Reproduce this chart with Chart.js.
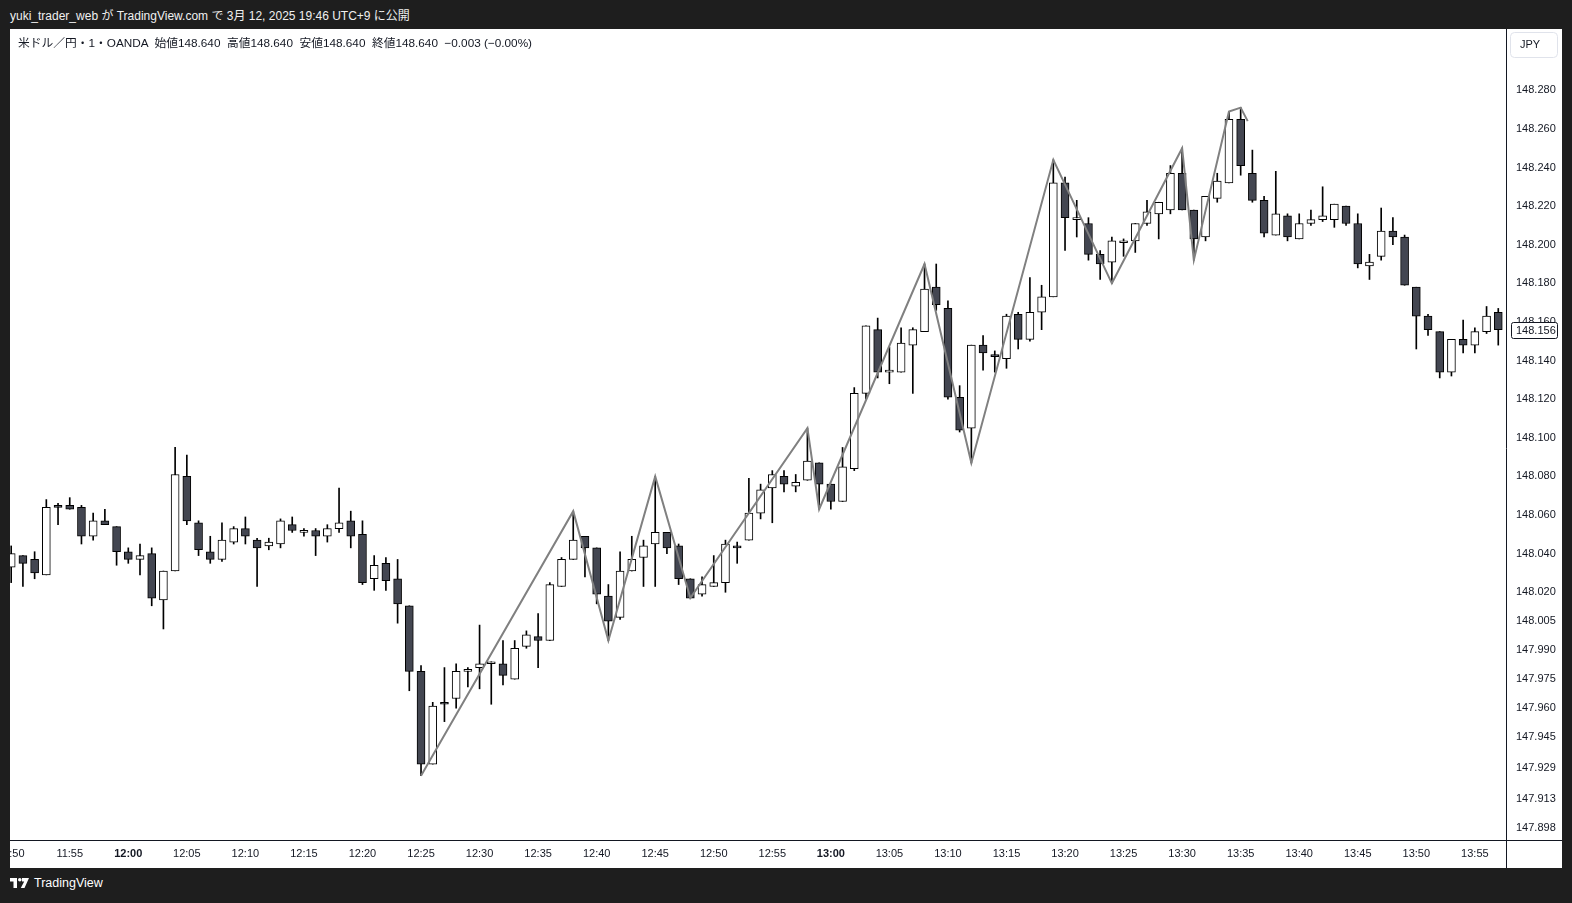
<!DOCTYPE html>
<html>
<head>
<meta charset="utf-8">
<script src="https://cdn.jsdelivr.net/npm/chart.js@4.4.1/dist/chart.umd.min.js"></script>
<style>
  body { margin: 0; width: 1572px; height: 903px; background: #1e1e1e; overflow: hidden;
         font-family: "Liberation Sans", Arial, "Noto Sans CJK JP", sans-serif; }
  #head { position: absolute; left: 10px; top: 6px; color: #f0f0f0; font-size: 12px; white-space: pre; }
  #panel { position: absolute; left: 10px; top: 29px; width: 1552px; height: 839px; background: #fff; }
  #legend { position: absolute; left: 8px; top: 4px; font-size: 11.75px; color: #131722; white-space: pre; z-index: 2; }
  #chart { position: absolute; left: 0; top: 0; }
  #foot { position: absolute; left: 10px; top: 876px; color: #fff; font-size: 12.5px; display: flex; align-items: center; }
  #foot svg { margin-right: 4px; }
</style>
</head>
<body>
<div id="head">yuki_trader_web が TradingView.com で 3月 12, 2025 19:46 UTC+9 に公開</div>
<div id="panel">
  <div id="legend">米ドル／円・1・OANDA  始値148.640  高値148.640  安値148.640  終値148.640  −0.003 (−0.00%)</div>
  <canvas id="chart" width="1552" height="839"></canvas>
</div>
<div id="foot">
  <svg width="20" height="12" viewBox="0 0 20 12">
    <rect x="0" y="1" width="7" height="3.5" fill="#fff"/>
    <rect x="3.5" y="1" width="3.5" height="10" fill="#fff"/>
    <circle cx="9.8" cy="2.8" r="1.8" fill="#fff"/>
    <polygon points="12,1 19,1 14.5,11 10.8,11 14.2,4.5 12,4.5" fill="#fff"/>
  </svg>
  <span>TradingView</span>
</div>
<script>
// USD/JPY 1-minute candles, 11:50 - 13:57
const opens = [148.033,148.039,148.037,148.029,148.065,148.065,148.064,148.049,148.057,148.054,
  148.041,148.037,148.040,148.016,148.031,148.080,148.056,148.041,148.037,148.046,
  148.053,148.047,148.044,148.045,148.055,148.051,148.052,148.049,148.053,148.057,
  148.050,148.027,148.035,148.027,148.013,147.979,147.931,147.963,147.965,147.979,
  147.981,147.983,147.983,147.975,147.992,147.997,147.995,148.023,148.037,148.049,
  148.043,148.018,148.007,148.031,148.038,148.045,148.051,148.044,148.027,148.019,
  148.023,148.025,148.044,148.047,148.061,148.074,148.080,148.075,148.078,148.087,
  148.076,148.067,148.084,148.123,148.156,148.134,148.134,148.148,148.155,148.178,
  148.167,148.121,148.105,148.148,148.143,148.141,148.164,148.151,148.165,148.173,
  148.232,148.213,148.211,148.195,148.191,148.201,148.202,148.211,148.216,148.218,
  148.237,148.218,148.204,148.224,148.232,148.265,148.237,148.223,148.205,148.215,
  148.203,148.211,148.213,148.213,148.220,148.211,148.189,148.194,148.207,148.204,
  148.178,148.163,148.155,148.134,148.151,148.148,148.155,148.165];
const highs = [148.044,148.039,148.041,148.068,148.066,148.069,148.065,148.061,148.063,148.054,
  148.043,148.045,148.043,148.031,148.095,148.091,148.057,148.049,148.056,148.054,
  148.059,148.048,148.048,148.058,148.059,148.053,148.053,148.055,148.074,148.062,
  148.057,148.039,148.038,148.037,148.013,147.982,147.963,147.981,147.983,147.981,
  148.003,147.984,147.995,147.995,148.000,148.009,148.025,148.038,148.062,148.049,
  148.043,148.024,148.041,148.049,148.047,148.080,148.051,148.045,148.027,148.028,
  148.039,148.047,148.046,148.079,148.076,148.083,148.083,148.081,148.105,148.087,
  148.076,148.095,148.126,148.158,148.162,148.147,148.157,148.157,148.190,148.190,
  148.171,148.127,148.148,148.153,148.145,148.164,148.165,148.183,148.179,148.244,
  148.235,148.223,148.214,148.197,148.204,148.203,148.211,148.223,148.222,148.241,
  148.250,148.218,148.225,148.237,148.269,148.271,148.249,148.225,148.238,148.216,
  148.216,148.218,148.230,148.221,148.220,148.216,148.195,148.219,148.214,148.205,
  148.178,148.164,148.155,148.151,148.161,148.157,148.168,148.167];
const lows = [148.025,148.023,148.027,148.029,148.055,148.063,148.045,148.047,148.055,148.034,
  148.035,148.029,148.013,148.001,148.031,148.055,148.039,148.035,148.036,148.045,
  148.045,148.023,148.042,148.043,148.051,148.049,148.039,148.046,148.051,148.043,
  148.024,148.021,148.021,148.004,147.969,147.925,147.931,147.953,147.960,147.971,
  147.970,147.962,147.972,147.975,147.991,147.981,147.995,148.023,148.037,148.028,
  148.014,147.995,148.006,148.031,148.023,148.023,148.040,148.024,148.017,148.018,
  148.023,148.020,148.035,148.047,148.058,148.056,148.072,148.072,148.078,148.063,
  148.063,148.067,148.083,148.120,148.131,148.128,148.134,148.123,148.155,148.166,
  148.120,148.103,148.087,148.135,148.134,148.136,148.146,148.150,148.156,148.173,
  148.197,148.204,148.192,148.182,148.180,148.194,148.196,148.210,148.203,148.216,
  148.218,148.192,148.202,148.222,148.232,148.236,148.222,148.204,148.205,148.202,
  148.203,148.210,148.212,148.209,148.210,148.188,148.182,148.192,148.200,148.179,
  148.146,148.153,148.131,148.132,148.144,148.144,148.154,148.148];
const closes = [148.040,148.035,148.030,148.064,148.064,148.063,148.049,148.057,148.055,148.041,
  148.037,148.039,148.017,148.031,148.081,148.057,148.042,148.037,148.047,148.053,
  148.049,148.043,148.046,148.057,148.052,148.051,148.049,148.053,148.056,148.049,
  148.025,148.034,148.026,148.014,147.979,147.931,147.961,147.962,147.979,147.979,
  147.983,147.983,147.977,147.991,147.998,147.995,148.024,148.037,148.047,148.043,
  148.019,148.005,148.031,148.037,148.044,148.051,148.043,148.027,148.017,148.024,
  148.025,148.045,148.043,148.061,148.073,148.081,148.076,148.077,148.088,148.076,
  148.067,148.085,148.123,148.158,148.134,148.134,148.149,148.156,148.177,148.169,
  148.121,148.104,148.148,148.144,148.142,148.163,148.151,148.165,148.173,148.232,
  148.214,148.214,148.195,148.190,148.202,148.201,148.211,148.217,148.222,148.237,
  148.218,148.203,148.225,148.233,148.265,148.241,148.223,148.206,148.216,148.204,
  148.211,148.213,148.215,148.221,148.211,148.190,148.191,148.207,148.204,148.179,
  148.163,148.156,148.134,148.151,148.148,148.155,148.163,148.156];

// zigzag pivots (candle index, price)
const zigIdx = [35, 48, 51, 55, 58, 68, 69, 78, 82, 89, 94, 100, 101, 104, 105, 105.6];
const zigPrice = [147.925, 148.062, 147.995, 148.080, 148.017, 148.105, 148.063, 148.190,
  148.087, 148.244, 148.180, 148.250, 148.192, 148.269, 148.271, 148.264];

const priceTicks = [147.898, 147.913, 147.929, 147.945, 147.960, 147.975, 147.990, 148.005,
  148.020, 148.040, 148.060, 148.080, 148.100, 148.120, 148.140, 148.160, 148.180, 148.200,
  148.220, 148.240, 148.260, 148.280];
const timeTicks = ['11:50','11:55','12:00','12:05','12:10','12:15','12:20','12:25','12:30',
  '12:35','12:40','12:45','12:50','12:55','13:00','13:05','13:10','13:15','13:20','13:25',
  '13:30','13:35','13:40','13:45','13:50','13:55'];
const boldTimes = ['12:00', '13:00'];

const FONT = '"Liberation Sans", Arial, sans-serif';
const TXT = '#131722';
const DOWN = '#434651';

const bodies = opens.map((o, i) => ({ x: i, y: [o, closes[i]] }));
const wicks = lows.map((l, i) => ({ x: i, y: [l, highs[i]] }));
const bodyColors = opens.map((o, i) => closes[i] >= o ? '#ffffff' : DOWN);
const zigzag = zigIdx.map((x, k) => ({ x: x, y: zigPrice[k] }));

const framePlugin = {
  id: 'frame',
  afterDraw(chart) {
    const ctx = chart.ctx, a = chart.chartArea;
    const W = chart.width, H = chart.height;
    ctx.save();
    ctx.strokeStyle = '#131722';
    ctx.lineWidth = 1;
    ctx.beginPath();
    ctx.moveTo(0, Math.round(a.bottom) + 0.5);
    ctx.lineTo(W, Math.round(a.bottom) + 0.5);
    ctx.moveTo(Math.round(a.right) + 0.5, 0);
    ctx.lineTo(Math.round(a.right) + 0.5, H);
    ctx.stroke();

    // currency box
    ctx.strokeStyle = '#e0e3eb';
    ctx.beginPath();
    ctx.roundRect(a.right + 4.5, 3.5, 47, 25, 4);
    ctx.stroke();
    ctx.fillStyle = TXT;
    ctx.font = '11px ' + FONT;
    ctx.textBaseline = 'middle';
    ctx.fillText('JPY', a.right + 14, 16);

    // last price box
    const last = closes[closes.length - 1];
    const py = Math.round(chart.scales.y.getPixelForValue(last));
    ctx.fillStyle = '#fff';
    ctx.strokeStyle = '#131722';
    ctx.beginPath();
    ctx.roundRect(a.right + 5.5, py - 7.5, 46, 16, 2);
    ctx.fill();
    ctx.stroke();
    ctx.fillStyle = TXT;
    ctx.fillText(last.toFixed(3), a.right + 10, py + 0.5);
    ctx.restore();
  }
};

new Chart(document.getElementById('chart'), {
  type: 'bar',
  data: {
    datasets: [
      {
        type: 'line',
        data: zigzag,
        borderColor: '#808080',
        borderWidth: 2,
        pointRadius: 0,
        tension: 0,
        order: 0
      },
      {
        data: bodies,
        backgroundColor: bodyColors,
        borderColor: '#000',
        borderWidth: 1,
        borderSkipped: false,
        barThickness: 8,
        minBarLength: 2,
        grouped: false,
        order: 1
      },
      {
        data: wicks,
        backgroundColor: '#000',
        borderWidth: 0,
        barThickness: 1,
        grouped: false,
        order: 2
      }
    ]
  },
  options: {
    responsive: false,
    animation: false,
    layout: { padding: { top: 1, left: 0, right: 0, bottom: 0 } },
    plugins: { legend: { display: false }, tooltip: { enabled: false } },
    scales: {
      x: {
        type: 'linear',
        min: -0.1025,
        max: 127.66,
        offset: false,
        grid: { display: false, drawTicks: false },
        border: { display: false },
        afterBuildTicks: (s) => { s.ticks = timeTicks.map((t, k) => ({ value: k * 5 })); },
        afterFit: (s) => { s.height = 28; s.paddingLeft = 0; s.paddingRight = 0; },
        ticks: {
          padding: 7,
          maxRotation: 0,
          autoSkip: false,
          color: TXT,
          font: (c) => ({
            family: FONT, size: 11,
            weight: c.tick && boldTimes.includes(timeTicks[c.index]) ? 'bold' : 'normal'
          }),
          callback: (v, i) => timeTicks[i]
        }
      },
      y: {
        type: 'linear',
        position: 'right',
        min: 147.8917,
        max: 148.3112,
        grid: { display: false, drawTicks: false },
        border: { display: false },
        afterBuildTicks: (s) => { s.ticks = priceTicks.map(v => ({ value: v })); },
        afterFit: (s) => { s.width = 56; s.paddingTop = 0; s.paddingBottom = 0; },
        ticks: {
          padding: 10,
          autoSkip: false,
          color: TXT,
          font: { family: FONT, size: 11 },
          callback: (v) => Number(v).toFixed(3)
        }
      }
    }
  },
  plugins: [framePlugin]
});
</script>
</body>
</html>
